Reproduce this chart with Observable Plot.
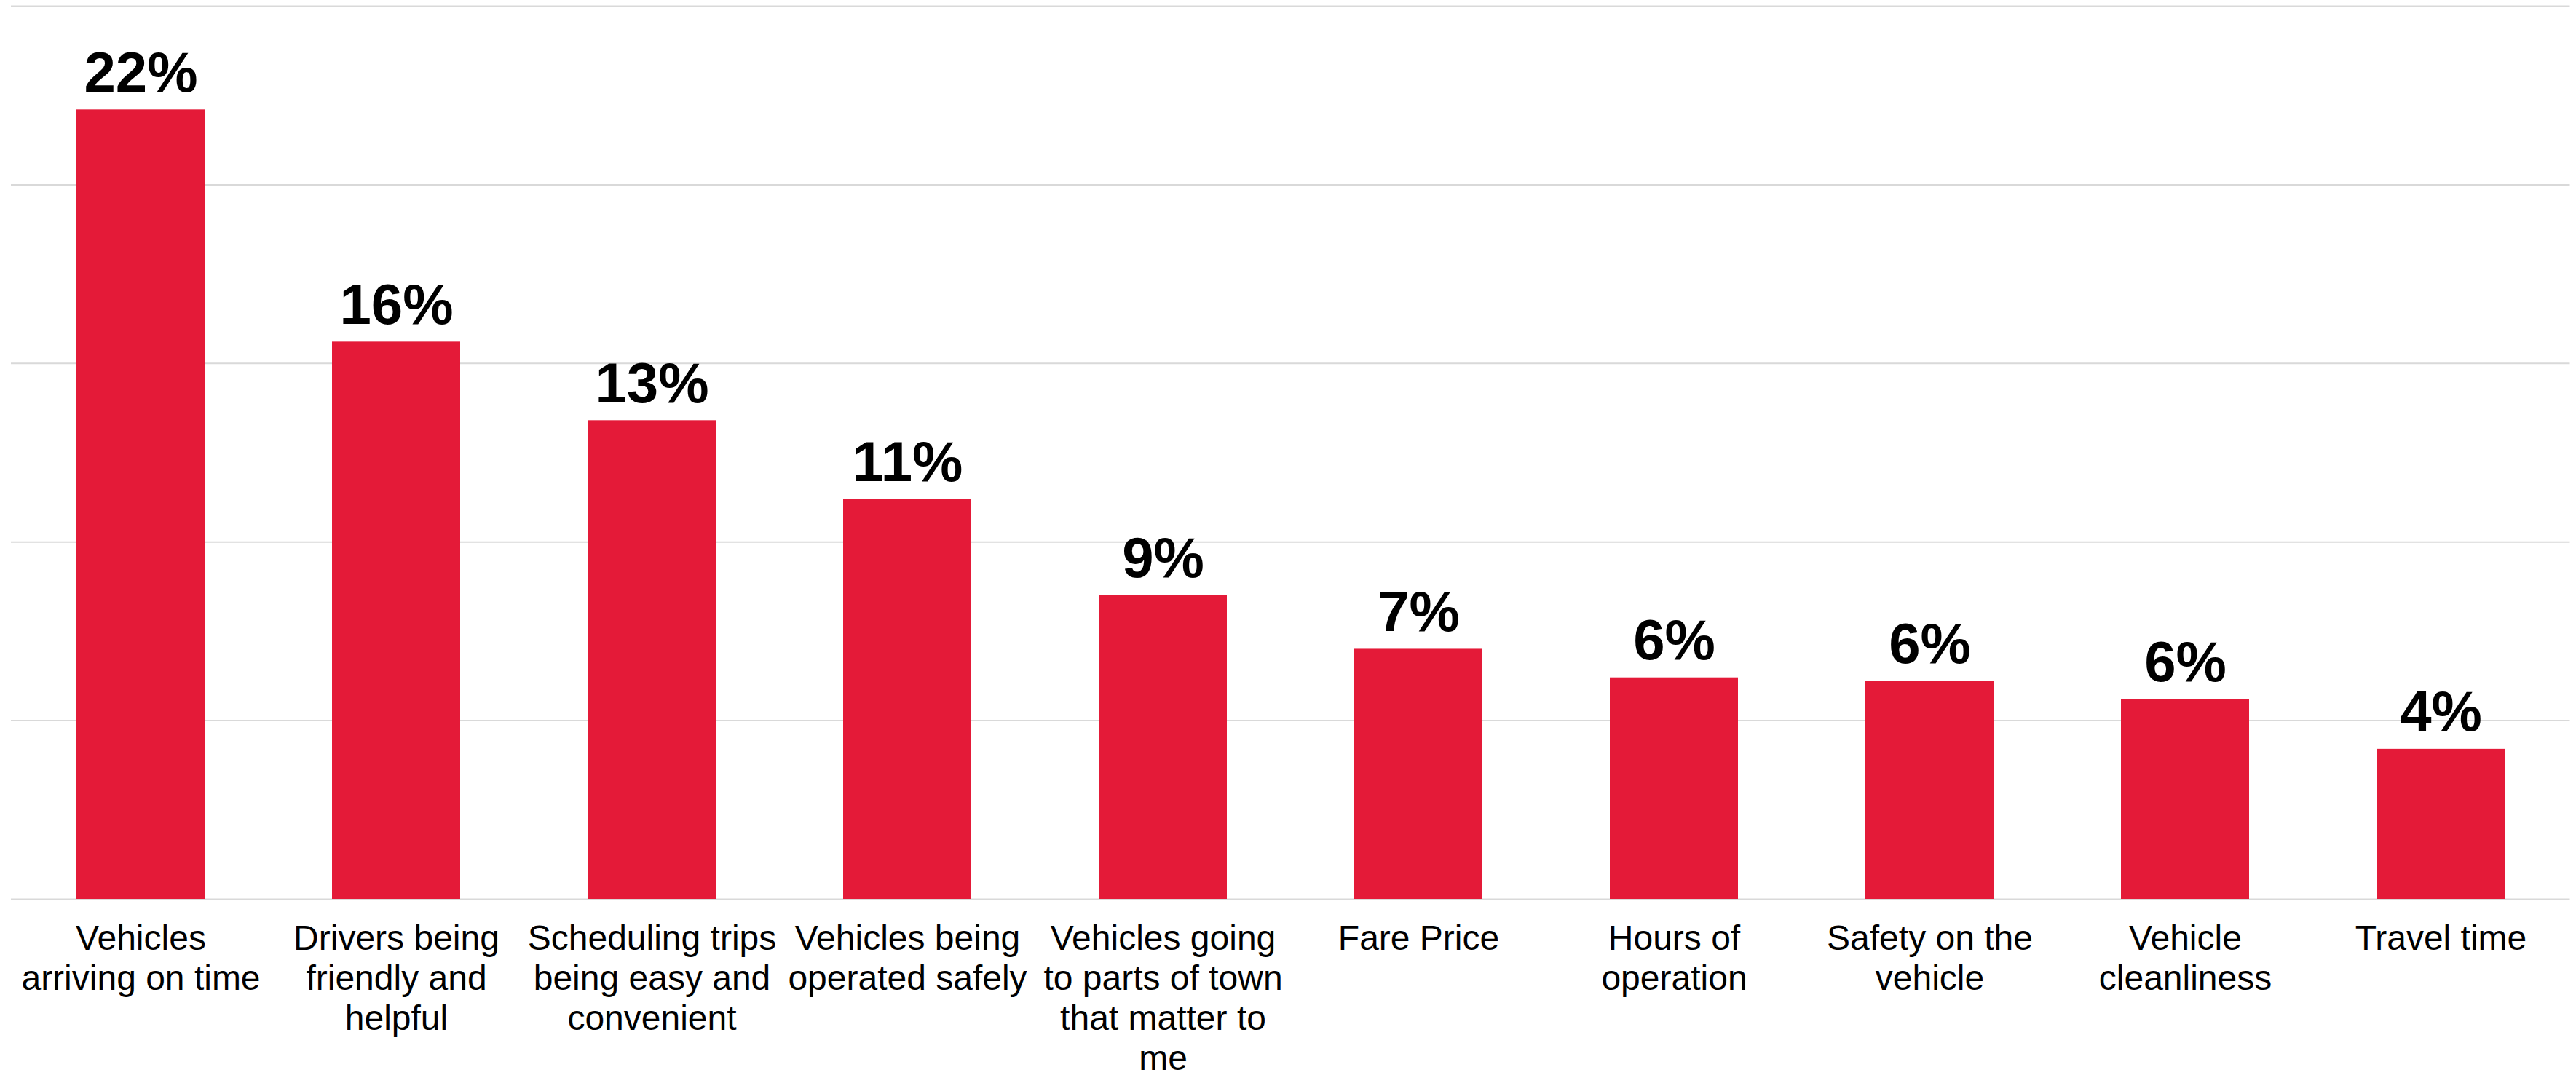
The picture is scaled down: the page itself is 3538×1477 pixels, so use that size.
<!DOCTYPE html>
<html>
<head>
<meta charset="utf-8">
<script src="https://cdn.jsdelivr.net/npm/d3@7"></script>
<script src="https://cdn.jsdelivr.net/npm/@observablehq/plot@0.6"></script>
<style>
  html, body { margin: 0; padding: 0; background: #ffffff; }
  #chart svg { display: block; }
</style>
</head>
<body>
<div id="chart"></div>
<script>
const categories = [
  "Vehicles arriving on time",
  "Drivers being friendly and helpful",
  "Scheduling trips being easy and convenient",
  "Vehicles being operated safely",
  "Vehicles going to parts of town that matter to me",
  "Fare Price",
  "Hours of operation",
  "Safety on the vehicle",
  "Vehicle cleanliness",
  "Travel time"
];
const tickLabels = [
  "Vehicles\narriving on time",
  "Drivers being\nfriendly and\nhelpful",
  "Scheduling trips\nbeing easy and\nconvenient",
  "Vehicles being\noperated safely",
  "Vehicles going\nto parts of town\nthat matter to\nme",
  "Fare Price",
  "Hours of\noperation",
  "Safety on the\nvehicle",
  "Vehicle\ncleanliness",
  "Travel time"
];
const values = [22.1, 15.6, 13.4, 11.2, 8.5, 7.0, 6.2, 6.1, 5.6, 4.2];
const valueLabels = ["22%", "16%", "13%", "11%", "9%", "7%", "6%", "6%", "6%", "4%"];
const yTicks = [0, 5, 10, 15, 20, 25];

const rows = categories.map((c, i) => ({category: c, value: values[i], label: valueLabels[i]}));

const chart = Plot.plot({
  width: 3538,
  height: 1477,
  marginLeft: 15,
  marginRight: 8.5,
  marginTop: 8,
  marginBottom: 242,
  style: {fontFamily: "'Liberation Sans', Arial, sans-serif", background: "#ffffff", color: "#000000"},
  x: {domain: categories, paddingInner: 0.5, paddingOuter: 0.25, label: null},
  y: {domain: [0, 25], axis: null},
  marks: [
    Plot.ruleY(yTicks, {stroke: "#d9d9d9", strokeWidth: 2}),
    Plot.barY(rows, {x: "category", y: "value", fill: "#e41a38"}),
    Plot.text(rows, {x: "category", y: "value", text: "label", lineAnchor: "bottom", dy: -25,
      fontSize: 78, fontWeight: "bold", fill: "#000000"}),
    Plot.axisX({tickSize: 0, tickPadding: 31, fontSize: 48, lineHeight: 1.14, fill: "#000000",
      label: null, tickFormat: d => tickLabels[categories.indexOf(d)]})
  ]
});
document.getElementById("chart").appendChild(chart);
</script>
</body>
</html>
